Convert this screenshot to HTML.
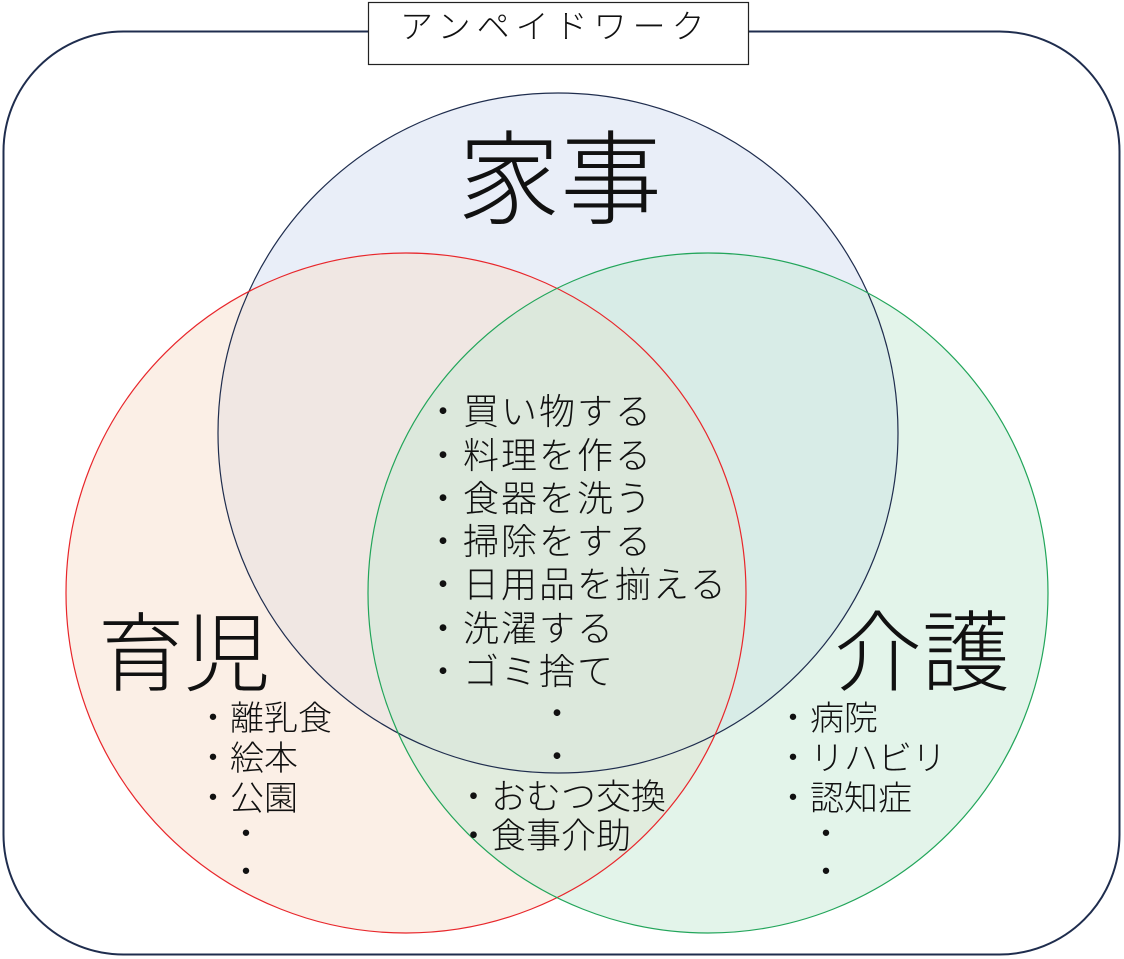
<!DOCTYPE html>
<html><head><meta charset="utf-8">
<style>
html,body{margin:0;padding:0;background:#fff;}
body{width:1124px;height:959px;position:relative;overflow:hidden;font-family:"Liberation Sans","Noto Sans CJK JP",sans-serif;color:#111;}
svg{position:absolute;left:0;top:0;}
.t{position:absolute;white-space:nowrap;line-height:1;font-weight:300;}
.l{font-size:36px;letter-spacing:2px;}
.s{font-size:34px;}
.b{font-size:86px;}
</style></head><body>
<svg width="1124" height="959">
<rect x="3.5" y="31.5" width="1116" height="923" rx="120" ry="120" fill="#fff" stroke="#1f2d4e" stroke-width="2"/>
<circle cx="558" cy="433" r="340" fill="rgb(211,221,241)" fill-opacity="0.5"/>
<circle cx="406" cy="593" r="340" fill="rgb(247,223,205)" fill-opacity="0.5"/>
<circle cx="708" cy="593" r="340" fill="rgb(199,233,213)" fill-opacity="0.5"/>
<circle cx="558" cy="433" r="340" fill="none" stroke="#1f2d4e" stroke-width="1.2"/>
<circle cx="406" cy="593" r="340" fill="none" stroke="#e8262b" stroke-width="1.2"/>
<circle cx="708" cy="593" r="340" fill="none" stroke="#22a55a" stroke-width="1.2"/>
<rect x="368.5" y="2.5" width="380" height="62" fill="#fff" stroke="#222" stroke-width="1.2"/>
</svg>
<div class="t" style="left:400px;top:10px;font-size:33px;letter-spacing:6px;">アンペイドワーク</div>
<div class="t" style="left:458px;top:130px;font-size:102px;">家事</div>
<div class="t b" style="left:98px;top:612px;">育児</div>
<div class="t" style="left:834px;top:610px;font-size:88px;">介護</div>
<div class="t l" style="left:425px;top:394px;">・買い物する</div>
<div class="t l" style="left:425px;top:438px;">・料理を作る</div>
<div class="t l" style="left:425px;top:481px;">・食器を洗う</div>
<div class="t l" style="left:425px;top:524px;">・掃除をする</div>
<div class="t l" style="left:425px;top:567px;">・日用品を揃える</div>
<div class="t l" style="left:425px;top:611px;">・洗濯する</div>
<div class="t l" style="left:425px;top:654px;">・ゴミ捨て</div>
<div class="t l" style="left:539px;top:696px;">・</div>
<div class="t l" style="left:539px;top:739px;">・</div>
<div class="t" style="left:456px;top:780px;font-size:35px;">・おむつ交換</div>
<div class="t" style="left:456px;top:819px;font-size:35px;">・食事介助</div>
<div class="t s" style="left:196px;top:702px;">・離乳食</div>
<div class="t s" style="left:196px;top:742px;">・絵本</div>
<div class="t s" style="left:196px;top:782px;">・公園</div>
<div class="t s" style="left:229px;top:818px;">・</div>
<div class="t s" style="left:229px;top:856px;">・</div>
<div class="t s" style="left:776px;top:702px;">・病院</div>
<div class="t s" style="left:776px;top:742px;">・リハビリ</div>
<div class="t s" style="left:776px;top:782px;">・認知症</div>
<div class="t s" style="left:809px;top:818px;">・</div>
<div class="t s" style="left:809px;top:856px;">・</div>
</body></html>
